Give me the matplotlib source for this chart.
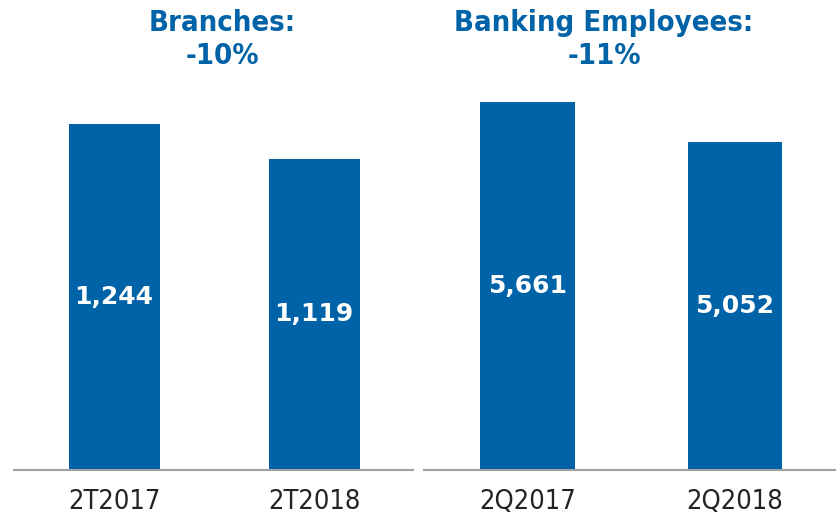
import matplotlib.pyplot as plt

# data
branch_labels = ["2T2017", "2T2018"]
branch_values = [1244, 1119]
emp_labels = ["2Q2017", "2Q2018"]
emp_values = [5661, 5052]

blue = "#0062A7"

fig = plt.figure(figsize=(8.36, 5.23), dpi=100)
ax1 = fig.add_axes([14 / 836, 1 - 470 / 523, 399 / 836, 390 / 523])
ax2 = fig.add_axes([424 / 836, 1 - 470 / 523, 412 / 836, 390 / 523])


def draw(ax, labels, values, ymax, xmax):
	x = range(len(values))
	bars = ax.bar(x, values, width=0.455, color=blue)
	for b, v in zip(bars, values):
		ax.text(b.get_x() + b.get_width() / 2, v / 2, f"{v:,}", ha="center", va="center",
			color="white", fontsize=18, fontweight="bold")
	ax.set_xlim(-0.5, xmax)
	ax.set_ylim(0, ymax)
	ax.set_xticks(list(x))
	ax.set_xticklabels(labels, fontsize=19.5, fontstretch="condensed", color="#222222")
	ax.tick_params(axis="x", length=0, pad=14)
	ax.set_yticks([])
	for s in ["top", "left", "right"]:
		ax.spines[s].set_visible(False)
	ax.spines["bottom"].set_color("#a0a0a0")
	ax.spines["bottom"].set_linewidth(1.5)


draw(ax1, branch_labels, branch_values, 1402, 1.494)
draw(ax2, emp_labels, emp_values, 6000, 1.488)

for x, t1, t2 in [(222, "Branches:", "-10%"), (604, "Banking Employees:", "-11%")]:
	fig.text(x / 836, 1 - 23 / 523, t1, ha="center", va="center", color=blue,
		fontsize=21, fontweight="bold", fontstretch="condensed")
	fig.text(x / 836, 1 - 56 / 523, t2, ha="center", va="center", color=blue,
		fontsize=21, fontweight="bold", fontstretch="condensed")

fig.savefig("out.png", dpi=100)
